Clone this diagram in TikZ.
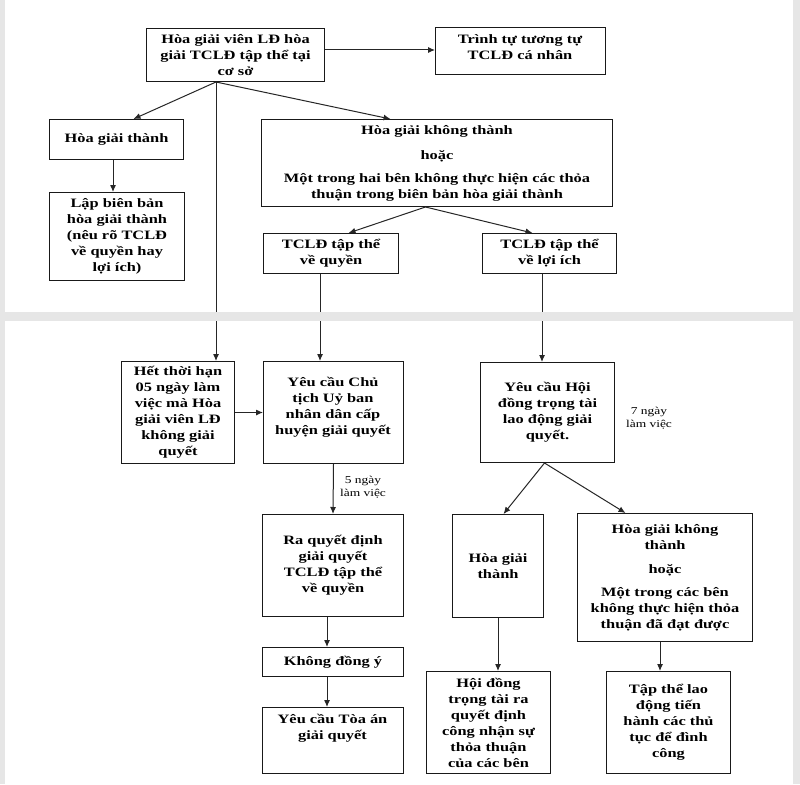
\documentclass[tikz,border=0pt]{standalone}
\usepackage{fontspec}
\setmainfont{Liberation Serif}[FakeStretch=1.28]
\usetikzlibrary{arrows.meta}
\definecolor{bggray}{HTML}{E6E6E6}
\tikzset{
  box/.style={draw=black!90, line width=1pt, inner sep=0pt, align=center, anchor=north west,
    font=\fontsize{12.8}{16}\selectfont\bfseries},
  btxt/.style={inner sep=0pt, align=center, font=\fontsize{12.8}{16}\selectfont\bfseries},
  note/.style={inner sep=0pt, align=center, font=\fontsize{10.5}{13}\selectfont},
  conn/.style={draw=black!85, line width=1pt},
  arr/.style={conn, -{Latex[length=7pt,width=6pt]}},
}
\begin{document}
\begin{tikzpicture}[x=1pt,y=-1pt]
\useasboundingbox (0,0) rectangle (800,784);
\fill[bggray] (0,0) rectangle (800,784);
\fill[white] (5,0) rectangle (793,312);
\fill[white] (5,321) rectangle (793,784);

% nodes
\node[box, minimum width=178pt, minimum height=53pt] (A) at (146,28) {Hòa giải viên LĐ hòa\\giải TCLĐ tập thể tại\\cơ sở};
\node[box, minimum width=170pt, minimum height=47pt] (B) at (435,27) {};
\node[btxt] (Bt) at (520,47) {Trình tự tương tự\\TCLĐ cá nhân};
\node[box, minimum width=134pt, minimum height=40pt] (C) at (49,119) {Hòa giải thành};
\node[box, minimum width=135pt, minimum height=88pt] (D) at (49,192) {Lập biên bản\\hòa giải thành\\(nêu rõ TCLĐ\\về quyền hay\\lợi ích)};
\node[box, minimum width=351pt, minimum height=87pt] (E) at (261,119) {Hòa giải không thành\\[9pt]hoặc\\[7pt]Một trong hai bên không thực hiện các thỏa\\thuận trong biên bản hòa giải thành};
\node[box, minimum width=135pt, minimum height=40pt] (H) at (263,233) {TCLĐ tập thể\\về quyền};
\node[box, minimum width=134pt, minimum height=40pt] (I) at (482,233) {TCLĐ tập thể\\về lợi ích};

\node[box, minimum width=113pt, minimum height=102pt] (F) at (121,361) {Hết thời hạn\\05 ngày làm\\việc mà Hòa\\giải viên LĐ\\không giải\\quyết};
\node[box, minimum width=140pt, minimum height=102pt] (G) at (263,361) {};
\node[btxt] (Gt) at (333,407) {Yêu cầu Chủ\\tịch Uỷ ban\\nhân dân cấp\\huyện giải quyết};
\node[box, minimum width=134pt, minimum height=100pt] (J) at (480,362) {Yêu cầu Hội\\đồng trọng tài\\lao động giải\\quyết.};
\node[box, minimum width=141pt, minimum height=102pt] (K) at (262,514) {Ra quyết định\\giải quyết\\TCLĐ tập thể\\về quyền};
\node[box, minimum width=141pt, minimum height=29pt] (L) at (262,647) {Không đồng ý};
\node[box, minimum width=141pt, minimum height=66pt] (M) at (262,707) {};
\node[btxt] (Mt) at (332.5,728) {Yêu cầu Tòa án\\giải quyết};
\node[box, minimum width=91pt, minimum height=103pt] (N) at (452,514) {Hòa giải\\thành};
\node[box, minimum width=175pt, minimum height=128pt] (O) at (577,513) {Hòa giải không\\thành\\[8pt]hoặc\\[7pt]Một trong các bên\\không thực hiện thỏa\\thuận đã đạt được};
\node[box, minimum width=124pt, minimum height=102pt] (P) at (426,671) {Hội đồng\\trọng tài ra\\quyết định\\công nhận sự\\thỏa thuận\\của các bên};
\node[box, minimum width=124pt, minimum height=102pt] (Q) at (606,671) {Tập thể lao\\động tiến\\hành các thủ\\tục để đình\\công};

\node[note] (n5) at (363,487) {5 ngày\\làm việc};
\node[note] (n7) at (649,418) {7 ngày\\làm việc};

% x positions of vertical connectors
\coordinate (xa) at (216,0);
\coordinate (xc) at (113,0);
\coordinate (xh) at (320,0);
\coordinate (xi) at (542,0);
\coordinate (xk) at (327,0);
\coordinate (xn) at (498,0);
\coordinate (xo) at (660,0);

% connectors
\draw[arr] (A.east |- 0,50) -- (B.west |- 0,50);
\draw[arr] (A.south -| xa) -- ([xshift=17pt]C.north);
\draw[arr] (A.south -| xa) -- ([xshift=-46.5pt]E.north);
\draw[arr] (A.south -| xa) -- (F.north -| xa);
\draw[arr] (C.south -| xc) -- (D.north -| xc);
\draw[arr] ([xshift=-11.5pt]E.south) -- ([xshift=17.5pt]H.north);
\draw[arr] ([xshift=-11.5pt]E.south) -- ([xshift=-17pt]I.north);
\draw[arr] (H.south -| xh) -- (G.north -| xh);
\draw[arr] (I.south -| xi) -- (J.north -| xi);
\draw[arr] (F.east) -- (G.west);
\draw[arr] (G.south) -- (K.north);
\draw[arr] (K.south -| xk) -- (L.north -| xk);
\draw[arr] (L.south -| xk) -- (M.north -| xk);
\draw[arr] ([xshift=-3pt]J.south) -- ([xshift=5.5pt]N.north);
\draw[arr] ([xshift=-3pt]J.south) -- ([xshift=-39.5pt]O.north);
\draw[arr] (N.south -| xn) -- (P.north -| xn);
\draw[arr] (O.south -| xo) -- (Q.north -| xo);

% gap between the two panels
\fill[bggray] (0,312) rectangle (800,321);
\end{tikzpicture}
\end{document}
